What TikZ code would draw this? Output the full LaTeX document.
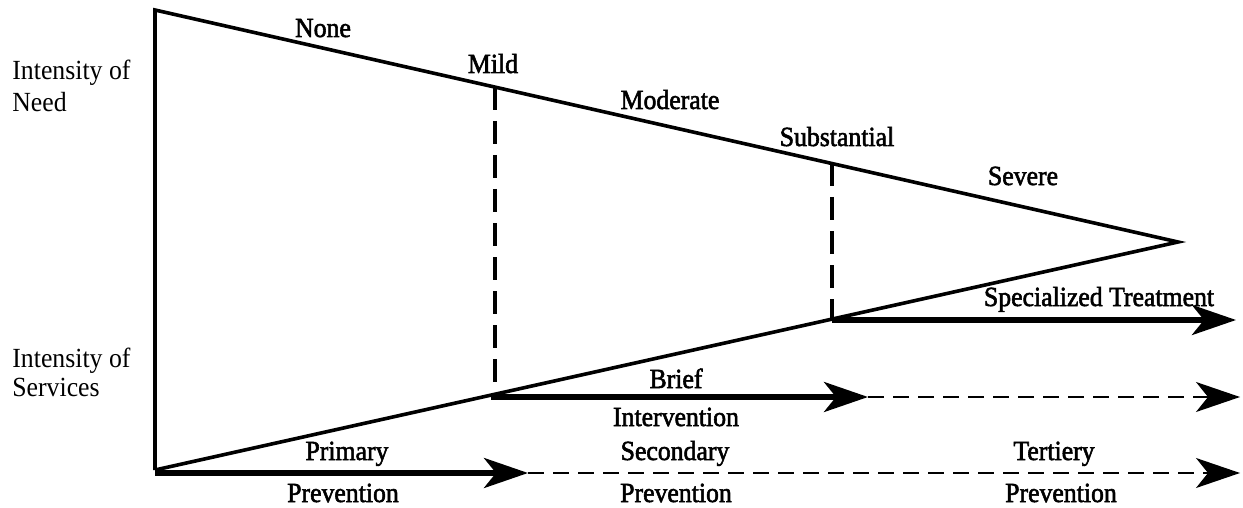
\documentclass[tikz,border=0pt]{standalone}
\usepackage{fontspec}
\setmainfont{Liberation Serif}[FakeStretch=0.93]
\newfontfamily\heavyfont{Liberation Serif}[FakeStretch=0.93,FakeBold=2]
\usetikzlibrary{arrows.meta}
\begin{document}
\begin{tikzpicture}[x=0.5pt,y=-0.5pt,
  tri/.style={line width=1.8pt},
  vdash/.style={line width=1.6pt, dash pattern=on 11.5pt off 5.5pt},
  bigtip/.style={-{Stealth[length=22pt,width=15pt,inset=6pt]}},
  thickarr/.style={line width=2.6pt, bigtip},
  thinarr/.style={line width=0.7pt, dash pattern=on 8pt off 4.5pt, bigtip},
  lab/.style={font=\heavyfont\fontsize{13.85}{16}\selectfont, anchor=base, inner sep=0pt},
  side/.style={font=\fontsize{13.85}{16}\selectfont, anchor=base west, inner sep=0pt}]
\useasboundingbox (0,0) rectangle (1243,508);
% triangle
\coordinate (A) at (155,10);
\coordinate (B) at (1178,242);
\coordinate (C) at (155,470);
\draw[tri] (C) -- (A) -- (B) -- (C);
% dashed verticals
\coordinate (M1t) at (495,87);
\coordinate (M1b) at (495,386);
\coordinate (M2t) at (832,163);
\coordinate (M2b) at (832,318);
\draw[vdash] (M1t) -- (M1b);
\draw[vdash] (M2t) -- (M2b);
% arrows
\coordinate (P0) at (155,473);
\coordinate (P1) at (528,473);
\coordinate (P2) at (1240,473);
\coordinate (Q0) at (491,397);
\coordinate (Q1) at (868,397);
\coordinate (Q2) at (1240,397);
\coordinate (S0) at (832,320);
\coordinate (S1) at (1236,320);
\draw[thinarr] (P1) -- (P2);
\draw[thinarr] (Q1) -- (Q2);
\draw[thickarr] (P0) -- (P1);
\draw[thickarr] (Q0) -- (Q1);
\draw[thickarr] (S0) -- (S1);
% side labels
\node[side] (need1) at (12,80) {Intensity of};
\node[side] (need2) at (12,112) {Need};
\node[side] (serv1) at (12,367) {Intensity of};
\node[side] (serv2) at (12,396) {Services};
% need levels
\node[lab] (none) at (323,37) {None};
\node[lab] (mild) at (493,73) {Mild};
\node[lab] (moderate) at (670,109) {Moderate};
\node[lab] (subst) at (837,146) {Substantial};
\node[lab] (severe) at (1023,185) {Severe};
% services
\node[lab] (spec) at (1099,306) {Specialized Treatment};
\node[lab] (brief) at (676,388) {Brief};
\node[lab] (interv) at (676,426) {Intervention};
\node[lab] (prim) at (347,460) {Primary};
\node[lab] (prev1) at (343,502) {Prevention};
\node[lab] (sec) at (675,460) {Secondary};
\node[lab] (prev2) at (676,502) {Prevention};
\node[lab] (tert) at (1054,460) {Tertiery};
\node[lab] (prev3) at (1061,502) {Prevention};
\end{tikzpicture}
\end{document}
